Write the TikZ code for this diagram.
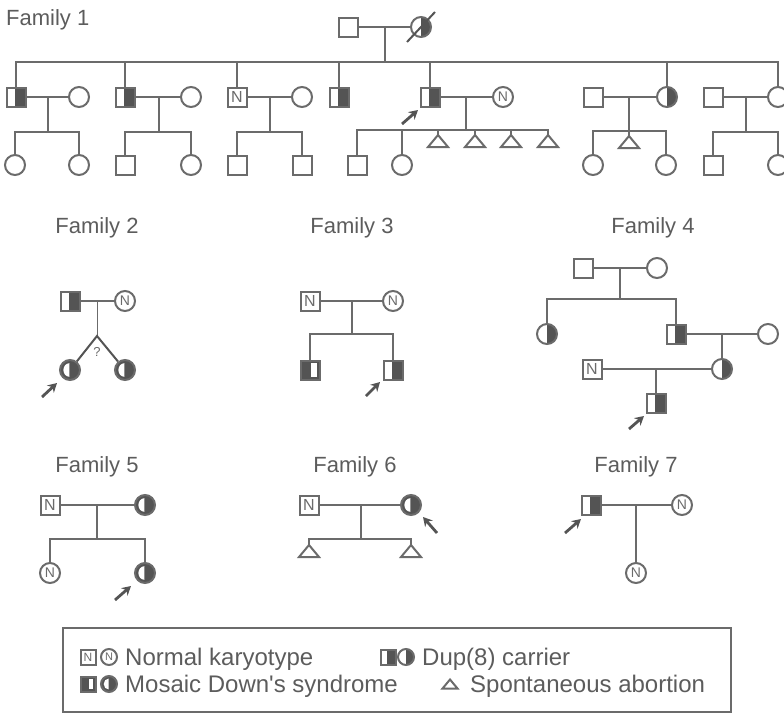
\documentclass[tikz,border=0pt]{standalone}
\usepackage{fontspec}
\setmainfont{Liberation Sans}[Ligatures=TeXOff]
\usetikzlibrary{arrows.meta}
\definecolor{lc}{gray}{0.42}
\definecolor{dk}{gray}{0.33}
\definecolor{tc}{gray}{0.36}
\begin{document}
\begin{tikzpicture}[x=1pt,y=-1pt,
  lbl/.style={font=\fontsize{22}{24}\selectfont, text=tc, inner sep=0pt, anchor=base},
  leg/.style={font=\fontsize{24}{26}\selectfont, text=tc, inner sep=0pt, anchor=base west},
  ln/.style={draw=lc, line width=1.6pt},
  base/.style={draw=lc, line width=2pt, fill=white, inner sep=0pt, text=lc},
  male/.style={base, rectangle, minimum size=#1, font=\fontsize{16}{16}\selectfont},
  male/.default=19pt,
  female/.style={base, circle, minimum size=#1, font=\fontsize{14}{14}\selectfont},
  female/.default=20pt,
  carM/.style={male=#1, path picture={\fill[dk] ([xshift=-1pt]path picture bounding box.south) rectangle (path picture bounding box.north east);}},
  carM/.default=19pt,
  carF/.style={female=#1, path picture={\fill[dk] (path picture bounding box.south) rectangle (path picture bounding box.north east);}},
  carF/.default=20pt,
  mosM/.style={male=#1, path picture={\fill[dk] (path picture bounding box.south west) rectangle (path picture bounding box.north east);
      \fill[white] ([xshift={0.05*#1},yshift={0.15*#1}]path picture bounding box.south) rectangle ([xshift={-0.15*#1},yshift={-0.15*#1}]path picture bounding box.north east);}},
  mosM/.default=19pt,
  mosF/.style={female=#1, path picture={\fill[dk] (path picture bounding box.south west) rectangle (path picture bounding box.north east);
      \fill[white] ([xshift={-0.03*#1}]path picture bounding box.center) ++(0pt,{0.34*#1}) arc[start angle=90,end angle=270,x radius={0.3*#1},y radius={0.34*#1}] -- cycle;}},
  mosF/.default=20pt,
  tri/.pic={\draw[base] (-10pt,-6pt) -- (0pt,6pt) -- (10pt,-6pt) -- cycle; \coordinate (-top) at (0pt,6pt);},
  parrow/.style={draw=dk, line width=2.8pt, -{Stealth[length=9pt,width=10pt]}}
]
\useasboundingbox (0,0) rectangle (784,713);

% ================= Family 1 =================
\node[lbl, anchor=base west] (L1) at (6,25) {Family 1};
\node[male] (a0) at (348,27) {};
\node[carF] (b0) at (421,27) {};
\coordinate (j0) at (385,27);
\coordinate (s0) at (385,62);
\coordinate (sL) at (15,62);
\coordinate (sR) at (778,62);
% generation II
\node[carM] (c1) at (16,97) {};
\node[female] (w1) at (79,97) {};
\node[carM] (c2) at (125,97) {};
\node[female] (w2) at (191,97) {};
\node[male] (c3) at (237,97) {N};
\node[female] (w3) at (302,97) {};
\node[carM] (c4) at (339,97) {};
\node[carM] (c5) at (430,97) {};
\node[female] (w5) at (503,97) {N};
\node[male] (h6) at (593,97) {};
\node[carF] (c6) at (667,97) {};
\node[male] (h7) at (713,97) {};
\node[female] (c7) at (778,97) {};
% junctions
\coordinate (j1) at (48,97);  \coordinate (k1) at (48,132);
\coordinate (j2) at (159,97); \coordinate (k2) at (159,132);
\coordinate (j3) at (270,97); \coordinate (k3) at (270,132);
\coordinate (j5) at (466,97); \coordinate (k5) at (466,130);
\coordinate (j6) at (629,97); \coordinate (k6) at (629,131);
\coordinate (j7) at (746,97); \coordinate (k7) at (746,132);
% generation III
\node[female] (g11) at (15,165) {};
\node[female] (g12) at (79,165) {};
\node[male] (g21) at (125,165) {};
\node[female] (g22) at (191,165) {};
\node[male] (g31) at (237,165) {};
\node[male] (g32) at (302,165) {};
\node[male] (g51) at (357,165) {};
\node[female] (g52) at (402,165) {};
\pic (t51) at (438,141) {tri};
\pic (t52) at (475,141) {tri};
\pic (t53) at (511,141) {tri};
\pic (t54) at (548,141) {tri};
\node[female] (g61) at (593,165) {};
\pic (t61) at (629,142) {tri};
\node[female] (g62) at (666,165) {};
\node[male] (g71) at (713,165) {};
\node[female] (g72) at (778,165) {};

\draw[ln] (a0) -- (b0);
\draw[ln] (j0) -- (s0);
\draw[ln] (sL) -- (sR) -- (c7.north);
\foreach \n in {c1,c2,c3,c4,c5,c6} \draw[ln] (\n.north |- s0) -- (\n.north);
\draw[draw=dk, line width=2pt] ([shift={(-14pt,-15pt)}]b0.center) -- ([shift={(14pt,15pt)}]b0.center);
\draw[ln] (c1) -- (w1); \draw[ln] (j1) -- (k1);
\draw[ln] (g11.north) -- (g11.north |- k1) -- (g12.north |- k1) -- (g12.north);
\draw[ln] (c2) -- (w2); \draw[ln] (j2) -- (k2);
\draw[ln] (g21.north) -- (g21.north |- k2) -- (g22.north |- k2) -- (g22.north);
\draw[ln] (c3) -- (w3); \draw[ln] (j3) -- (k3);
\draw[ln] (g31.north) -- (g31.north |- k3) -- (g32.north |- k3) -- (g32.north);
\draw[ln] (c5) -- (w5); \draw[ln] (j5) -- (k5);
\draw[ln] (g51.north) -- (g51.north |- k5) -- (t54-top |- k5) -- (t54-top);
\draw[ln] (g52.north) -- (g52.north |- k5);
\foreach \t in {t51,t52,t53} \draw[ln] (\t-top |- k5) -- (\t-top);
\draw[ln] (h6) -- (c6); \draw[ln] (j6) -- (t61-top);
\draw[ln] (g61.north) -- (g61.north |- k6) -- (g62.north |- k6) -- (g62.north);
\draw[ln] (h7) -- (c7); \draw[ln] (j7) -- (k7);
\draw[ln] (g71.north) -- (g71.north |- k7) -- (g72.north |- k7) -- (g72.north);
\coordinate (p1a) at (402,124); \coordinate (p1b) at (418,110);
\draw[parrow] (p1a) -- (p1b);

% ================= Family 2 =================
\node[lbl] (L2) at (97,233) {Family 2};
\node[carM] (f2a) at (70,301) {};
\node[female] (f2b) at (125,301) {N};
\node[mosF] (f2c) at (70,370) {};
\node[mosF] (f2d) at (125,370) {};
\coordinate (j2a) at (97,301);
\coordinate (ap2) at (97,336);
\draw[ln] (f2a) -- (f2b);
\draw[draw=lc, line width=1pt] (j2a) -- (ap2);
\draw[draw=dk, line width=2pt] (f2c) -- (ap2) -- (f2d);
\node[text=lc, font=\fontsize{13}{13}\selectfont, inner sep=0pt] (q2) at (97,352) {?};
\coordinate (p2a) at (42,397); \coordinate (p2b) at (57,383);
\draw[parrow] (p2a) -- (p2b);

% ================= Family 3 =================
\node[lbl] (L3) at (352,233) {Family 3};
\node[male] (f3a) at (310,301) {N};
\node[female] (f3b) at (393,301) {N};
\node[mosM] (f3c) at (310,370) {};
\node[carM] (f3d) at (393,370) {};
\coordinate (j3a) at (352,301); \coordinate (k3a) at (352,334);
\draw[ln] (f3a) -- (f3b);
\draw[ln] (j3a) -- (k3a);
\draw[ln] (f3c.north) -- (f3c.north |- k3a) -- (f3d.north |- k3a) -- (f3d.north);
\coordinate (p3a) at (366,396); \coordinate (p3b) at (380,382);
\draw[parrow] (p3a) -- (p3b);

% ================= Family 4 =================
\node[lbl] (L4) at (653,233) {Family 4};
\node[male] (f4a) at (583,268) {};
\node[female] (f4b) at (657,268) {};
\node[carF] (f4c) at (547,334) {};
\node[carM] (f4d) at (676,334) {};
\node[female] (f4e) at (768,334) {};
\node[male] (f4f) at (592,369) {N};
\node[carF] (f4g) at (722,369) {};
\node[carM] (f4h) at (656,403) {};
\coordinate (j4a) at (620,268); \coordinate (k4a) at (620,299);
\coordinate (j4b) at (722,334);
\coordinate (j4c) at (656,369);
\draw[ln] (f4a) -- (f4b);
\draw[ln] (j4a) -- (k4a);
\draw[ln] (f4c.north) -- (f4c.north |- k4a) -- (f4d.north |- k4a) -- (f4d.north);
\draw[ln] (f4d) -- (f4e);
\draw[ln] (j4b) -- (f4g.north);
\draw[ln] (f4f) -- (f4g);
\draw[ln] (j4c) -- (f4h.north);
\coordinate (p4a) at (629,429); \coordinate (p4b) at (644,416);
\draw[parrow] (p4a) -- (p4b);

% ================= Family 5 =================
\node[lbl] (L5) at (97,472) {Family 5};
\node[male] (f5a) at (50,505) {N};
\node[mosF] (f5b) at (145,505) {};
\node[female] (f5c) at (50,573) {N};
\node[mosF] (f5d) at (145,573) {};
\coordinate (j5a) at (97,505); \coordinate (k5a) at (97,539);
\draw[ln] (f5a) -- (f5b);
\draw[ln] (j5a) -- (k5a);
\draw[ln] (f5c.north) -- (f5c.north |- k5a) -- (f5d.north |- k5a) -- (f5d.north);
\coordinate (p5a) at (115,600); \coordinate (p5b) at (131,586);
\draw[parrow] (p5a) -- (p5b);

% ================= Family 6 =================
\node[lbl] (L6) at (355,472) {Family 6};
\node[male] (f6a) at (309,505) {N};
\node[mosF] (f6b) at (411,505) {};
\pic (t6a) at (309,551) {tri};
\pic (t6b) at (411,551) {tri};
\coordinate (j6a) at (361,505); \coordinate (k6a) at (361,539);
\draw[ln] (f6a) -- (f6b);
\draw[ln] (j6a) -- (k6a);
\draw[ln] (t6a-top) -- (t6a-top |- k6a) -- (t6b-top |- k6a) -- (t6b-top);
\coordinate (p6a) at (437,533); \coordinate (p6b) at (423,517);
\draw[parrow] (p6a) -- (p6b);

% ================= Family 7 =================
\node[lbl] (L7) at (636,472) {Family 7};
\node[carM] (f7a) at (591,505) {};
\node[female] (f7b) at (682,505) {N};
\node[female] (f7c) at (636,573) {N};
\coordinate (j7a) at (636,505);
\draw[draw=lc, line width=2.4pt] (f7a) -- (f7b);
\draw[draw=lc, line width=1.2pt] (j7a) -- (f7c.north);
\coordinate (p7a) at (565,533); \coordinate (p7b) at (581,519);
\draw[parrow] (p7a) -- (p7b);

% ================= Legend =================
\node[draw=lc, line width=1.2pt, minimum width=668pt, minimum height=84pt, inner sep=0pt] (box) at (397,670) {};
\node[male=15pt, font=\fontsize{12}{12}\selectfont] (lga) at (88,657) {N};
\node[female=16pt, font=\fontsize{11}{11}\selectfont] (lgb) at (109,657) {N};
\node[leg] (lt1) at (125,665) {Normal karyotype};
\node[carM=15pt] (lgc) at (388,657) {};
\node[carF=16pt] (lgd) at (406,657) {};
\node[leg] (lt2) at (422,665) {Dup(8) carrier};
\node[mosM=15pt] (lge) at (88,684) {};
\node[mosF=16pt] (lgf) at (109,684) {};
\node[leg] (lt3) at (125,692) {Mosaic Down's syndrome};
\pic[scale=0.75] (lgt) at (450,684) {tri};
\node[leg] (lt4) at (470,692) {Spontaneous abortion};
\end{tikzpicture}
\end{document}
